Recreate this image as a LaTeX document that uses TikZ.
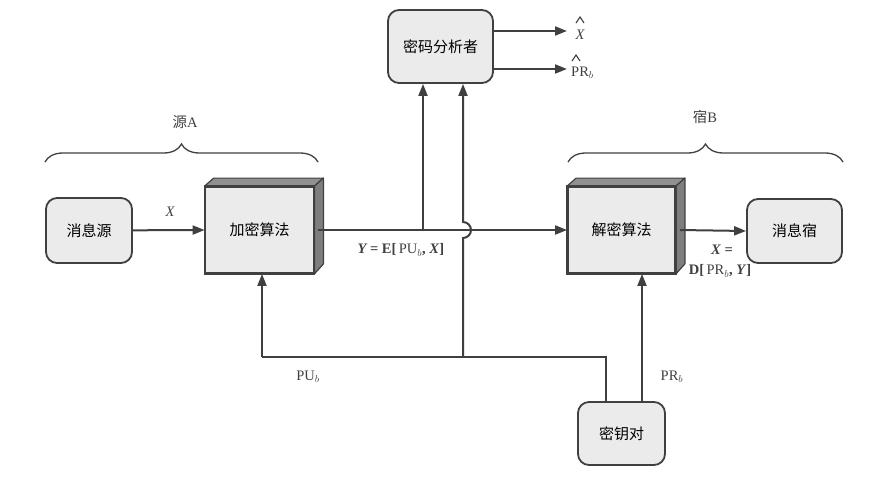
\documentclass[tikz,border=0pt]{standalone}
\usepackage{fontspec}
\setmainfont{Liberation Serif}
\newfontfamily\cjk{Noto Sans CJK SC}
\usetikzlibrary{arrows.meta,calc,decorations.pathreplacing}
\definecolor{edge}{HTML}{404040}
\definecolor{boxfill}{HTML}{EBEBEB}
\definecolor{sidefill}{HTML}{7E7E7E}
\definecolor{topfill}{HTML}{909090}
\begin{document}
\begin{tikzpicture}[x=1pt,y=-1pt,
  rbox/.style={draw=edge,line width=1.8pt,fill=boxfill,rounded corners=11pt,
    font=\cjk\fontsize{15}{17}\selectfont,inner sep=0pt},
  cube/.style={draw=edge,line width=1.8pt,fill=boxfill,
    font=\cjk\fontsize{15}{17}\selectfont,inner sep=0pt},
  face/.style={draw=edge,line width=1.2pt,line join=round},
  conn/.style={draw=edge,line width=2pt},
  arr/.style={conn,-{Triangle[length=12pt,width=9pt]}},
  lbl/.style={font=\fontsize{14.5}{16}\selectfont,text=edge,inner sep=1pt},
  caret/.style={draw=edge,line width=1.1pt,line join=miter},
  brc/.style={draw=edge,line width=1.3pt,decorate,decoration={brace,amplitude=18pt}}
]
\useasboundingbox (0,0) rectangle (891,479);

% nodes
\node[rbox,minimum width=86pt,minimum height=65pt] (src) at (89,230.5) {消息源};
\node[cube,minimum width=108pt,minimum height=86pt] (enc) at (259.5,230) {};
\node[rbox,minimum width=105pt,minimum height=73pt] (ana) at (440.5,46.5) {密码分析者};
\node[cube,minimum width=107pt,minimum height=86pt] (dec) at (621.5,230) {};
\node[rbox,minimum width=95pt,minimum height=64pt] (sink) at (794.5,231) {消息宿};
\node[rbox,minimum width=87pt,minimum height=63pt] (key) at (621.5,433.5) {密钥对};

% 3D faces
\foreach \b in {enc,dec}{
  \filldraw[face,fill=topfill] (\b.north west) -- ++(9,-8) -- ($(\b.north east)+(9,-8)$) -- (\b.north east) -- cycle;
  \filldraw[face,fill=sidefill] (\b.north east) -- ++(9,-8) -- ($(\b.south east)+(9,-10)$) -- (\b.south east) -- cycle;
  \draw[edge,line width=1.8pt] (\b.south west) rectangle (\b.north east);
}
\node[font=\cjk\fontsize{15}{17}\selectfont] (enct) at (enc.center) {加密算法};
\node[font=\cjk\fontsize{15}{17}\selectfont] (dect) at (dec.center) {解密算法};

% braces
\draw[brc] (45,162) -- (318,162);
\node[lbl] (bA) at (185,122) {{\cjk 源}A};
\draw[brc] (568,162) -- (843,162);
\node[lbl] (bB) at (705,117) {{\cjk 宿}B};

% X arrow
\draw[arr] (src) -- (enc.west);
\node[lbl] (lx) at (170,212) {\itshape X};

% main line
\coordinate (tap1) at (423,230);
\coordinate (hop) at (463,230);
\draw[arr] ($(enc.east)+(4,0)$) -- (dec.west);
\draw[arr] (tap1) -- (tap1 |- ana.south);
\node[lbl] (ly) at (401,250)
  {{\bfseries\itshape Y}\textbf{\,= E[}\,PU$_b$\textbf{, }{\bfseries\itshape X}\textbf{]}};

% to sink
\draw[arr] ($(dec.east)+(4,0)$) -- (sink.west);
\node[lbl] (ld1) at (722,250) {{\bfseries\itshape X}\textbf{ =}};
\node[lbl] (ld2) at (720,271) {\textbf{D[}\,PR$_b$\textbf{, }{\bfseries\itshape Y}\textbf{]}};

% analyst outputs
\coordinate (o1) at (567,31);
\coordinate (o2) at (567,69);
\draw[arr] (ana.east |- o1) -- (o1);
\draw[arr] (ana.east |- o2) -- (o2);
\node[lbl] (lxh) at (580,35) {\itshape X};
\draw[caret] (576,23) -- (580,17) -- (584,23);
\node[lbl,anchor=west] (lprh) at (570,73) {PR$_b$};
\draw[caret] (572,61) -- (576,55) -- (580,61);

% key bus
\coordinate (kb) at (606,357);
\coordinate (lb) at (262,357);
\coordinate (mb) at (463,357);
\draw[conn] (kb |- key.north) -- (kb) -- (lb);
\draw[arr] (lb) -- (lb |- enc.south);
\draw[arr] (mb) -- ($(hop)+(0,8)$) arc[start angle=90,end angle=-90,radius=8] -- (mb |- ana.south);
\node[lbl] (lpu) at (308,377) {PU$_b$};

% PR arrow
\coordinate (pr) at (642,402);
\draw[arr] (pr |- key.north) -- (pr |- dec.south);
\node[lbl] (lpr) at (672,377) {PR$_b$};
\end{tikzpicture}
\end{document}
